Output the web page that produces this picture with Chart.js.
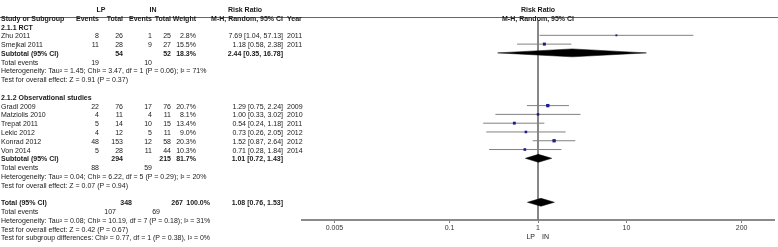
<!DOCTYPE html>
<html>
<head>
<meta charset="utf-8">
<script src="https://cdn.jsdelivr.net/npm/chart.js@4.4.0/dist/chart.umd.min.js"></script>
<style>
  html, body { margin: 0; padding: 0; background: #fff; }
  #wrap { position: relative; width: 778px; height: 247px; overflow: hidden;
          font-family: "Liberation Sans", Arial, sans-serif; font-size: 7px; color: #1a1a1a; }
  #wrap canvas { position: absolute; left: 0; top: 0; }
  .t { position: absolute; white-space: nowrap; line-height: 1; transform: translateY(-50%); }
  .r { transform: translate(-100%, -50%); }
  .c { transform: translate(-50%, -50%); }
  .b { font-weight: bold; }
  #hline { position: absolute; left: 0; top: 17px; width: 778px; height: 1px; background: #666; }
</style>
</head>
<body>
<div id="wrap">
  <canvas id="chart" width="778" height="247"></canvas>
  <div id="hline"></div>
</div>
<script>
// studies (row = line in the table)
const studies  = ["Zhu 2011", "Smejkal 2011", "Gradl 2009", "Matziolis 2010", "Trepat 2011", "Lekic 2012", "Konrad 2012", "Von 2014"];
const rows     = [2, 3, 10, 11, 12, 13, 14, 15];
const lpEvents = [8, 11, 22, 4, 5, 4, 48, 5];
const lpTotal  = [26, 28, 76, 11, 14, 12, 153, 28];
const inEvents = [1, 9, 17, 4, 10, 5, 12, 11];
const inTotal  = [25, 27, 76, 11, 15, 11, 58, 44];
const weights  = [2.8, 15.5, 20.7, 8.1, 13.4, 9.0, 20.3, 10.3];
const rr       = [7.69, 1.18, 1.29, 1.00, 0.54, 0.73, 1.52, 0.71];
const rrLow    = [1.04, 0.58, 0.75, 0.33, 0.24, 0.26, 0.87, 0.28];
const rrHigh   = [57.13, 2.38, 2.24, 3.02, 1.18, 2.05, 2.64, 1.84];
const years    = [2011, 2011, 2009, 2010, 2011, 2012, 2012, 2014];

// pooled estimates (subtotals and total)
const poolLabels = ["Subtotal (95% CI)", "Subtotal (95% CI)", "Total (95% CI)"];
const poolRows   = [4, 16, 21];
const poolLpTot  = [54, 294, 348];
const poolInTot  = [52, 215, 267];
const poolWeight = ["18.3%", "81.7%", "100.0%"];
const poolRR     = [2.44, 1.01, 1.08];
const poolLow    = [0.35, 0.72, 0.76];
const poolHigh   = [16.78, 1.43, 1.53];

// total events lines
const evRows = [5, 17, 22];
const evLp   = [19, 88, 107];
const evIn   = [10, 59, 69];

// group titles and notes
const groupTitles = [[1, "2.1.1 RCT"], [9, "2.1.2 Observational studies"]];
const notes = [
  [6,  "Heterogeneity: Tau² = 1.45; Chi² = 3.47, df = 1 (P = 0.06); I² = 71%"],
  [7,  "Test for overall effect: Z = 0.91 (P = 0.37)"],
  [18, "Heterogeneity: Tau² = 0.04; Chi² = 6.22, df = 5 (P = 0.29); I² = 20%"],
  [19, "Test for overall effect: Z = 0.07 (P = 0.94)"],
  [23, "Heterogeneity: Tau² = 0.08; Chi² = 10.19, df = 7 (P = 0.18); I² = 31%"],
  [24, "Test for overall effect: Z = 0.42 (P = 0.67)"],
  [25, "Test for subgroup differences: Chi² = 0.77, df = 1 (P = 0.38), I² = 0%"]
];

const xTicks = [0.005, 0.1, 1, 10, 200];

// layout
const Y_MIN = -1.564, Y_MAX = 23.02;
const COL = { lpEv: 99, lpTot: 123, inEv: 152, inTot: 171, w: 196, ci: 283, year: 287 };
// the overall section is set a little further right in the source
const TOT = { lpEv: 116, lpTot: 132, inEv: 160, inTot: 183, w: 210 };

function fmt(v) { return v.toFixed(2); }

const datasets = [];

// squares
datasets.push({
  type: "scatter",
  order: 0,
  data: rr.map((v, i) => ({ x: v, y: rows[i] })),
  pointStyle: "rect",
  pointRadius: weights.map(w => 0.75 + Math.sqrt(w) * 0.35),
  backgroundColor: "#1b1b8f",
  borderWidth: 0
});

// diamonds
poolRR.forEach((v, i) => {
  const r = poolRows[i];
  datasets.push({
    type: "line",
    order: 1,
    data: [
      { x: poolLow[i], y: r },
      { x: v, y: r - 0.45 },
      { x: poolHigh[i], y: r },
      { x: v, y: r + 0.45 },
      { x: poolLow[i], y: r }
    ],
    borderColor: "#000",
    borderWidth: 0.5,
    backgroundColor: "#000",
    fill: "shape",
    pointRadius: 0,
    tension: 0
  });
});

// confidence intervals
rr.forEach((v, i) => {
  datasets.push({
    type: "line",
    order: 2,
    data: [{ x: rrLow[i], y: rows[i] }, { x: rrHigh[i], y: rows[i] }],
    borderColor: "#808080",
    borderWidth: 1,
    pointRadius: 0
  });
});

// line of no effect
datasets.push({
  type: "line",
  order: 3,
  data: [{ x: 1, y: 0.3 }, { x: 1, y: Y_MAX }],
  borderColor: "#777",
  borderWidth: 1,
  pointRadius: 0
});

const chart = new Chart(document.getElementById("chart"), {
  type: "scatter",
  data: { datasets: datasets },
  options: {
    responsive: false,
    animation: false,
    devicePixelRatio: 1,
    layout: { padding: { left: 302, right: 1, top: 0, bottom: 0 } },
    plugins: { legend: { display: false }, tooltip: { enabled: false } },
    scales: {
      x: {
        type: "logarithmic",
        min: 0.00215,
        max: 465,
        afterBuildTicks: (s) => { s.ticks = xTicks.map(v => ({ value: v })); },
        afterFit: (s) => { s.height = 27; },
        grid: { drawOnChartArea: false, drawTicks: true, tickLength: 3, color: "#808080" },
        border: { color: "#8a8a8a", width: 2 },
        ticks: {
          autoSkip: false, maxRotation: 0, padding: 1,
          color: "#333",
          font: { family: "Liberation Sans, Arial", size: 7 },
          callback: (v) => String(v)
        }
      },
      y: {
        type: "linear",
        reverse: true,
        min: Y_MIN,
        max: Y_MAX,
        display: false
      }
    }
  }
});

// table text, placed on the chart's row scale
const wrap = document.getElementById("wrap");
const yAt = (row) => chart.scales.y.getPixelForValue(row);
const xAt = (v) => chart.scales.x.getPixelForValue(v);

function put(text, x, row, align, bold) {
  const el = document.createElement("div");
  el.className = "t" + (align === "r" ? " r" : align === "c" ? " c" : "") + (bold ? " b" : "");
  el.textContent = text;
  el.style.left = x + "px";
  el.style.top = yAt(row) + "px";
  wrap.appendChild(el);
}

// headers
put("LP", 101, -1, "c", true);
put("IN", 153, -1, "c", true);
put("Risk Ratio", 245, -1, "c", true);
put("Risk Ratio", xAt(1), -1, "c", true);
put("Study or Subgroup", 1, 0, "l", true);
put("Events", COL.lpEv, 0, "r", true);
put("Total", COL.lpTot, 0, "r", true);
put("Events", COL.inEv, 0, "r", true);
put("Total", COL.inTot, 0, "r", true);
put("Weight", COL.w, 0, "r", true);
put("M-H, Random, 95% CI", COL.ci, 0, "r", true);
put("Year", COL.year, 0, "l", true);
put("M-H, Random, 95% CI", xAt(1), 0, "c", true);

groupTitles.forEach(([r, t]) => put(t, 1, r, "l", true));

studies.forEach((s, i) => {
  const r = rows[i];
  put(s, 1, r, "l", false);
  put(String(lpEvents[i]), COL.lpEv, r, "r");
  put(String(lpTotal[i]), COL.lpTot, r, "r");
  put(String(inEvents[i]), COL.inEv, r, "r");
  put(String(inTotal[i]), COL.inTot, r, "r");
  put(weights[i].toFixed(1) + "%", COL.w, r, "r");
  put(fmt(rr[i]) + " [" + fmt(rrLow[i]) + ", " + fmt(rrHigh[i]) + "]", COL.ci, r, "r");
  put(String(years[i]), COL.year, r, "l");
});

poolRR.forEach((v, i) => {
  const r = poolRows[i];
  const c = i === 2 ? TOT : COL;
  put(poolLabels[i], 1, r, "l", true);
  put(String(poolLpTot[i]), c.lpTot, r, "r", true);
  put(String(poolInTot[i]), c.inTot, r, "r", true);
  put(poolWeight[i], c.w, r, "r", true);
  put(fmt(v) + " [" + fmt(poolLow[i]) + ", " + fmt(poolHigh[i]) + "]", COL.ci, r, "r", true);
});

evRows.forEach((r, i) => {
  const c = i === 2 ? TOT : COL;
  put("Total events", 1, r, "l");
  put(String(evLp[i]), c.lpEv, r, "r");
  put(String(evIn[i]), c.inEv, r, "r");
});

notes.forEach(([r, t]) => put(t, 1, r, "l"));

// favours labels under the axis
put("LP", xAt(1) - 3, 24.8, "r");
put("IN", xAt(1) + 4, 24.8, "l");
</script>
</body>
</html>
